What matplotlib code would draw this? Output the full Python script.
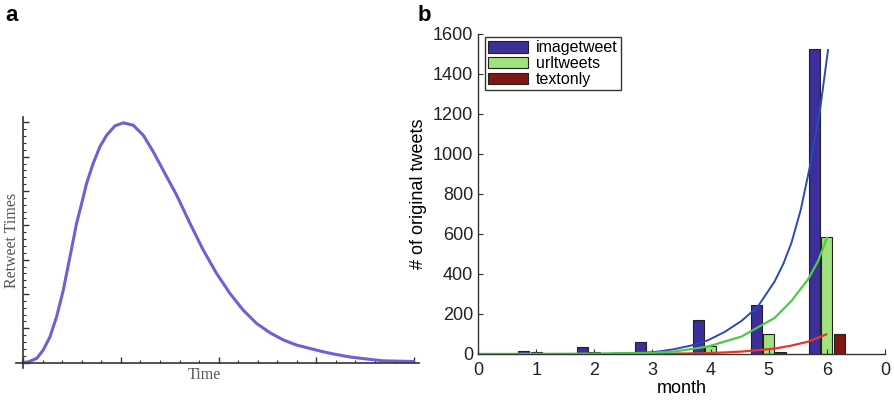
import numpy as np
import matplotlib.pyplot as plt
from matplotlib.ticker import MultipleLocator

# panel a: retweet curve
t_vals = [0.0, 0.26, 0.69, 1.02, 1.37, 1.71, 2.05, 2.39, 2.73, 2.99, 3.24, 3.58, 3.92,
          4.27, 4.69, 5.12, 5.63, 6.14, 6.65, 7.16, 7.85, 8.53, 9.21, 9.89, 10.57,
          11.25, 11.94, 12.62, 13.30, 13.98, 14.67, 15.3, 15.86, 16.73, 17.60, 18.41, 19.95]
r_vals = [0.0, 0.002, 0.012, 0.036, 0.075, 0.134, 0.211, 0.308, 0.406, 0.464, 0.522, 0.581, 0.629,
          0.663, 0.690, 0.699, 0.692, 0.663, 0.615, 0.561, 0.488, 0.406, 0.328, 0.260, 0.202,
          0.153, 0.114, 0.087, 0.066, 0.051, 0.041, 0.032, 0.025, 0.016, 0.010, 0.005, 0.003]

# panel b: monthly counts
months = [1, 2, 3, 4, 5, 6]
imagetweet = [15, 35, 62, 168, 245, 1525]
urltweets = [8, 9, 9, 38, 100, 585]
textonly = [1, 1, 1, 2, 10, 98]
series_names = ['imagetweet', 'urltweets', 'textonly']

# fitted curves
fit_img_x = [2.3, 2.8, 3.1, 3.37, 3.66, 3.95, 4.24, 4.53, 4.81, 5.1, 5.25, 5.39, 5.55, 5.71, 5.88, 6.02]
fit_img_y = [2, 5, 12, 24, 42, 68, 110, 165, 236, 362, 450, 555, 720, 940, 1215, 1520]
fit_url_x = [0, 1, 2, 3, 3.37, 3.95, 4.53, 5.1, 5.39, 5.68, 5.85, 6.0]
fit_url_y = [0.3, 0.8, 2, 6, 12, 37, 87, 180, 265, 375, 465, 580]
fit_txt_x = [3.0, 3.37, 3.95, 4.53, 5.1, 5.39, 5.68, 5.99]
fit_txt_y = [1, 2, 4, 12, 27, 42, 62, 98]

xtick_labels = ['0', '1', '2', '3', '4', '5', '6', '0']

fig = plt.figure(figsize=(8.94, 4.03), dpi=100)

# ---- panel a
axa = fig.add_axes([16/894, 35/403, 403/894, 251/403])
axa.plot(t_vals, r_vals, color='#6b63d3', lw=2.2, solid_joinstyle='round')
axa.set_xlim(-0.37, 20.25)
axa.set_ylim(-0.016, 0.716)
for s in ['top', 'right']:
    axa.spines[s].set_visible(False)
for s in ['left', 'bottom']:
    axa.spines[s].set_position(('data', 0))
    axa.spines[s].set_color('#333333')
    axa.spines[s].set_linewidth(1.2)
axa.xaxis.set_major_locator(MultipleLocator(5))
axa.xaxis.set_minor_locator(MultipleLocator(1))
axa.yaxis.set_major_locator(MultipleLocator(0.1))
axa.yaxis.set_minor_locator(MultipleLocator(0.02))
axa.tick_params(which='both', direction='in', labelbottom=False, labelleft=False, color='#333333')
axa.tick_params(which='major', length=4, width=1)
axa.tick_params(which='minor', length=2.5, width=0.8)
fig.text(12/894, 1 - 240/403, 'Retweet Times', rotation=90, ha='center', va='center',
         family='Liberation Serif', fontsize=11.5, color='#555555')
fig.text(204/894, 1 - 375/403, 'Time', ha='center', va='center',
         family='Liberation Serif', fontsize=11.5, color='#555555')

# ---- panel b
axb = fig.add_axes([478/894, 49/403, 407/894, 320/403])
x = np.array(months)
w = 0.19
axb.bar(x - 0.21, imagetweet, w, color='#3a2f9b', edgecolor='#222222', lw=0.8, label=series_names[0])
axb.bar(x, urltweets, w, color='#a0e27f', edgecolor='#222222', lw=0.8, label=series_names[1])
axb.bar(x + 0.21, textonly, w, color='#7f1814', edgecolor='#222222', lw=0.8, label=series_names[2])
axb.plot(fit_img_x, fit_img_y, color='#2b49b8', lw=1.4)
axb.plot(fit_txt_x, fit_txt_y, color='#e8362a', lw=1.6)
axb.plot(fit_url_x, fit_url_y, color='#4ec94a', lw=1.6)
axb.set_xlim(0, 7)
axb.set_ylim(0, 1600)
axb.set_xticks(range(8))
axb.set_xticklabels(xtick_labels)
axb.set_yticks(range(0, 1601, 200))
for s in ['top', 'right']:
    axb.spines[s].set_visible(False)
for s in ['left', 'bottom']:
    axb.spines[s].set_color('#333333')
    axb.spines[s].set_linewidth(1)
axb.tick_params(direction='in', length=3.5, labelsize=13, color='#333333', labelcolor='#222222')
axb.tick_params(axis='x', pad=5.5)
axb.set_xlabel('month', fontsize=13, family='Liberation Sans', labelpad=1)
axb.set_ylabel('# of original tweets', fontsize=13, family='Liberation Sans', labelpad=4)
for lab in axb.get_xticklabels() + axb.get_yticklabels():
    lab.set_family('Liberation Sans')
leg = axb.legend(loc='upper left', bbox_to_anchor=(0.017, 0.99), borderaxespad=0,
                 fancybox=False, handlelength=2.5, handleheight=0.75, labelspacing=0.05,
                 handletextpad=0.5, borderpad=0.2, prop={'family': 'Liberation Sans', 'size': 11.5})
leg.get_frame().set_edgecolor('black')
leg.get_frame().set_linewidth(1)

fig.text(5/894, 1 - 21/403, 'a', fontsize=16, fontweight='bold', family='Liberation Sans')
fig.text(418/894, 1 - 21/403, 'b', fontsize=16, fontweight='bold', family='Liberation Sans')

fig.savefig('out.png', dpi=100)
